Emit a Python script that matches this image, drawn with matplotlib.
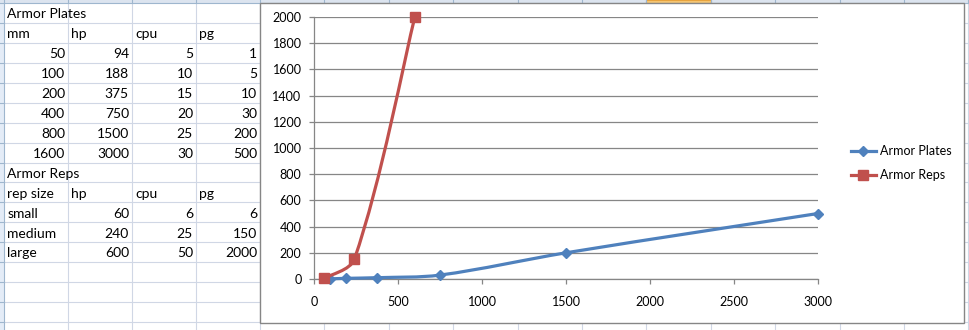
import numpy as np
import matplotlib
matplotlib.use("Agg")
import matplotlib.pyplot as plt
from matplotlib.path import Path
from matplotlib.patches import PathPatch, Rectangle
from matplotlib.lines import Line2D

plt.rcParams['font.family'] = ['Lato', 'DejaVu Sans']

# ---------------- data ----------------
plates_title = "Armor Plates"
plates_header = ["mm", "hp", "cpu", "pg"]
plates_mm = [50, 100, 200, 400, 800, 1600]
plates_hp = [94, 188, 375, 750, 1500, 3000]
plates_cpu = [5, 10, 15, 20, 25, 30]
plates_pg = [1, 5, 10, 30, 200, 500]

reps_title = "Armor Reps"
reps_header = ["rep size", "hp", "cpu", "pg"]
reps_size = ["small", "medium", "large"]
reps_hp = [60, 240, 600]
reps_cpu = [6, 25, 50]
reps_pg = [6, 150, 2000]

x_ticks = [0, 500, 1000, 1500, 2000, 2500, 3000]
y_ticks = [0, 200, 400, 600, 800, 1000, 1200, 1400, 1600, 1800, 2000]

BLUE = '#4F81BD'
RED = '#C0504D'
GRID = '#D0D7E5'
AXC = '#868686'

W, H = 970, 330
fig = plt.figure(figsize=(W / 100, H / 100), dpi=100)

# ---------------- spreadsheet background ----------------
bg = fig.add_axes([0, 0, 1, 1], zorder=0)
bg.set_xlim(0, W)
bg.set_ylim(H, 0)
bg.axis('off')

col_edges = [4.5, 68, 132, 196, 260, 324, 389, 453, 518, 582, 646, 711, 775, 840, 904, 968]
row_edges = [3 + 19.94 * k for k in range(18)]

for xe in col_edges[1:]:
    bg.plot([xe, xe], [3, H], color=GRID, lw=0.8, zorder=1)
for ye in row_edges[1:]:
    bg.plot([4.5, W], [ye, ye], color=GRID, lw=0.8, zorder=1)

# column header strip (top) and row header strip (left)
bg.add_patch(Rectangle((0, 0), W, 3, facecolor='#DCE4EF', edgecolor='none', zorder=2))
bg.add_patch(Rectangle((646, 0), 65, 3, facecolor='#F6C776', edgecolor='#E8A33C', lw=0.8, zorder=3))
bg.plot([0, W], [3, 3], color='#9EB6CE', lw=0.8, zorder=3)
for xe in col_edges[1:]:
    bg.plot([xe, xe], [0, 3], color='#9EB6CE', lw=0.8, zorder=3)
bg.add_patch(Rectangle((0, 3), 4.5, H, facecolor='#E4ECF7', edgecolor='none', zorder=2))
bg.plot([4.5, 4.5], [0, H], color='#9EB6CE', lw=0.8, zorder=3)
for ye in row_edges[1:]:
    bg.plot([0, 4.5], [ye, ye], color='#9EB6CE', lw=0.8, zorder=3)

TFS = 10
def cell_text(row, col, s, align):
    yb = row_edges[row] + 15.2
    if align == 'left':
        xx = col_edges[col] + 3
    else:
        xx = col_edges[col + 1] - 3
    bg.text(xx, yb, str(s), ha=align, va='baseline', fontsize=TFS, color='black', zorder=4)

cell_text(0, 0, plates_title, 'left')
for c, hname in enumerate(plates_header):
    cell_text(1, c, hname, 'left')
for r in range(len(plates_mm)):
    for c, v in enumerate([plates_mm[r], plates_hp[r], plates_cpu[r], plates_pg[r]]):
        cell_text(2 + r, c, v, 'right')
cell_text(8, 0, reps_title, 'left')
for c, hname in enumerate(reps_header):
    cell_text(9, c, hname, 'left')
for r in range(len(reps_size)):
    cell_text(10 + r, 0, reps_size[r], 'left')
    for c, v in enumerate([reps_hp[r], reps_cpu[r], reps_pg[r]]):
        cell_text(10 + r, c + 1, v, 'right')

# chart area
bg.add_patch(Rectangle((260, 3), 704, 320, facecolor='white', edgecolor=AXC, lw=1.0, zorder=5))

# ---------------- chart ----------------
x0, x1, yt, yb_ = 314, 818, 17, 279
ax = fig.add_axes([x0 / W, (H - yb_) / H, (x1 - x0) / W, (yb_ - yt) / H], zorder=2)
ax.set_facecolor('none')
ax.set_xlim(0, 3000)
ax.set_ylim(0, 2000)
ax.set_xticks(x_ticks)
ax.set_yticks(y_ticks)
for s in ['top', 'right']:
    ax.spines[s].set_visible(False)
for s in ['left', 'bottom']:
    ax.spines[s].set_color(AXC)
    ax.spines[s].set_linewidth(0.9)
ax.yaxis.grid(True, color=AXC, lw=0.9)
ax.set_axisbelow(True)
CFS = 9
ax.tick_params(axis='y', direction='out', length=3.5, width=0.9, color=AXC, pad=5.5, labelsize=CFS)
ax.tick_params(axis='x', direction='out', length=3.5, width=0.9, color=AXC, pad=9, labelsize=CFS)

fig.canvas.draw()

def smooth_path(xs, ys):
    pts = ax.transData.transform(np.column_stack([xs, ys]).astype(float))
    n = len(pts)
    verts = [pts[0]]
    codes = [Path.MOVETO]
    for i in range(n - 1):
        p0 = pts[i - 1] if i > 0 else pts[i]
        p1 = pts[i]
        p2 = pts[i + 1]
        p3 = pts[i + 2] if i + 2 < n else pts[i + 1]
        d01 = np.hypot(*(p1 - p0))
        d12 = np.hypot(*(p2 - p1))
        d23 = np.hypot(*(p3 - p2))
        f1 = d12 / (d01 + d12) / 3 if d01 > 0 else 1 / 6
        f2 = d12 / (d12 + d23) / 3 if d23 > 0 else 1 / 6
        c1 = p1 + (p2 - p0) * f1
        c2 = p2 - (p3 - p1) * f2
        verts += [c1, c2, p2]
        codes += [Path.CURVE4] * 3
    verts = ax.transData.inverted().transform(np.array(verts))
    return Path(verts, codes)

LW = 2.3
ax.add_patch(PathPatch(smooth_path(plates_hp, plates_pg), facecolor='none', edgecolor=BLUE,
                       lw=LW, zorder=3, clip_on=False, capstyle='round', joinstyle='round'))
ax.plot(plates_hp, plates_pg, ls='none', marker='D', ms=5.2, color=BLUE, zorder=4, clip_on=False)
ax.add_patch(PathPatch(smooth_path(reps_hp, reps_pg), facecolor='none', edgecolor=RED,
                       lw=LW, zorder=5, clip_on=False, capstyle='round', joinstyle='round'))
ax.plot(reps_hp, reps_pg, ls='none', marker='s', ms=7.2, color=RED, zorder=6, clip_on=False)

handles = [Line2D([], [], color=BLUE, lw=LW, marker='D', ms=5.2),
           Line2D([], [], color=RED, lw=LW, marker='s', ms=7.2)]
fig.legend(handles, [plates_title, reps_title], loc='center left',
           bbox_to_anchor=(851 / W, (H - 163) / H), frameon=False, fontsize=CFS,
           borderpad=0, borderaxespad=0, handlelength=2.0, handletextpad=0.35,
           labelspacing=0.95)

fig.savefig('out.png', dpi=100)
